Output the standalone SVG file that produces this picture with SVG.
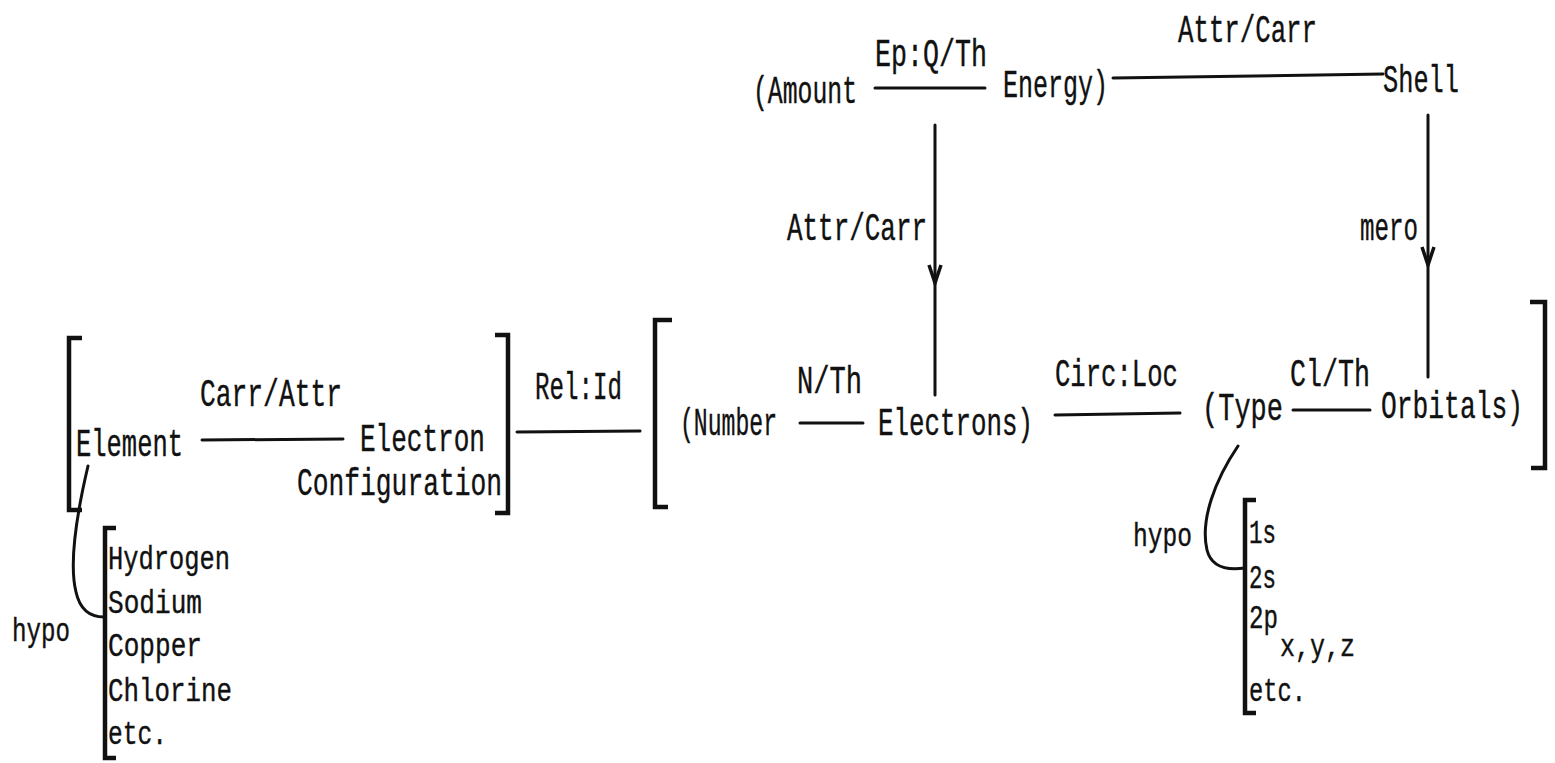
<svg xmlns="http://www.w3.org/2000/svg" width="1555" height="763" viewBox="0 0 1555 763">
<style>
text{font-family:"Liberation Mono","DejaVu Sans Mono",monospace;fill:#111;font-size:38px;stroke:#111;stroke-width:0.4}
.s{font-size:33px}
.sub{font-size:31px}
.ln{stroke:#111;stroke-width:3;fill:none;stroke-linecap:round}
.br{stroke:#111;stroke-width:4.5;fill:none;stroke-linejoin:miter}
</style>
<defs>
<marker id="am" markerUnits="userSpaceOnUse" viewBox="-22 -10 24 20" refX="0" refY="0" markerWidth="24" markerHeight="20" orient="auto">
<path d="M-18 -6 L0 0 L-18 6" fill="none" stroke="#111" stroke-width="3.5"/>
</marker>
</defs>
<g id="connectors">
<path class="ln" d="M875 88 L985 88"/>
<path class="ln" d="M1113 78 L1383 74"/>
<path class="ln" d="M935 125 L935 283 L935 395" marker-mid="url(#am)"/>
<path class="ln" d="M1428 115 L1428 265 L1428 377" marker-mid="url(#am)"/>
<path class="ln" d="M202 440 L343 439"/>
<path class="ln" d="M517 432 L640 431"/>
<path class="ln" d="M800 423 L863 423"/>
<path class="ln" d="M1055 415 L1180 413"/>
<path class="ln" d="M1293 410 L1370 410"/>
<path class="ln" d="M88 466 C80 500 68 560 76 592 C80 610 90 617 104 617"/>
<path class="ln" d="M1238 446 C1215 480 1200 520 1207 550 C1211 566 1224 571 1245 568"/>
</g>
<g id="n-amount-energy"><text x="753" y="103" textLength="104" lengthAdjust="spacingAndGlyphs">(Amount</text><text x="1003" y="97" textLength="105" lengthAdjust="spacingAndGlyphs">Energy)</text></g>
<g id="l-epq"><text x="875" y="66" textLength="112" lengthAdjust="spacingAndGlyphs">Ep:Q/Th</text></g>
<g id="l-attrcarr-top"><text x="1178" y="42" textLength="139" lengthAdjust="spacingAndGlyphs">Attr/Carr</text></g>
<g id="n-shell"><text x="1383" y="92" textLength="76" lengthAdjust="spacingAndGlyphs">Shell</text></g>
<g id="l-attrcarr-left"><text x="787" y="240" textLength="140" lengthAdjust="spacingAndGlyphs">Attr/Carr</text></g>
<g id="l-mero"><text x="1360" y="240" textLength="58" lengthAdjust="spacingAndGlyphs">mero</text></g>
<g id="n-element-group">
<path class="br" d="M82 338 L69 338 L69 510 L82 510"/>
<text x="76" y="456" textLength="107" lengthAdjust="spacingAndGlyphs">Element</text>
<text x="360" y="451" textLength="125" lengthAdjust="spacingAndGlyphs">Electron</text>
<text x="297" y="495" textLength="205" lengthAdjust="spacingAndGlyphs">Configuration</text>
<path class="br" d="M495 335 L508 335 L508 513 L495 513"/>
</g>
<g id="l-carrattr"><text x="200" y="406" textLength="142" lengthAdjust="spacingAndGlyphs">Carr/Attr</text></g>
<g id="l-relid"><text x="535" y="399" textLength="87" lengthAdjust="spacingAndGlyphs">Rel:Id</text></g>
<g id="n-electrons-group">
<path class="br" d="M672 320 L655 320 L655 507 L668 507"/>
<text x="680" y="435" textLength="97" lengthAdjust="spacingAndGlyphs">(Number</text>
<text x="878" y="435" textLength="155" lengthAdjust="spacingAndGlyphs">Electrons)</text>
<text x="1202" y="420" textLength="81" lengthAdjust="spacingAndGlyphs">(Type</text>
<text x="1381" y="418" textLength="142" lengthAdjust="spacingAndGlyphs">Orbitals)</text>
<path class="br" d="M1530 302 L1545 302 L1545 468 L1531 468"/>
</g>
<g id="l-nth"><text x="797" y="393" textLength="65" lengthAdjust="spacingAndGlyphs">N/Th</text></g>
<g id="l-circloc"><text x="1055" y="386" textLength="123" lengthAdjust="spacingAndGlyphs">Circ:Loc</text></g>
<g id="l-clth"><text x="1290" y="386" textLength="80" lengthAdjust="spacingAndGlyphs">Cl/Th</text></g>
<g id="n-elements-list">
<path class="br" d="M116 528 L105 528 L105 758 L116 758"/>
<text class="s" x="108" y="569" textLength="122" lengthAdjust="spacingAndGlyphs">Hydrogen</text>
<text class="s" x="108" y="613" textLength="94" lengthAdjust="spacingAndGlyphs">Sodium</text>
<text class="s" x="108" y="656" textLength="94" lengthAdjust="spacingAndGlyphs">Copper</text>
<text class="s" x="108" y="701" textLength="124" lengthAdjust="spacingAndGlyphs">Chlorine</text>
<text class="s" x="108" y="744" textLength="59" lengthAdjust="spacingAndGlyphs">etc.</text>
</g>
<g id="l-hypo-left"><text class="s" x="12" y="641" textLength="58" lengthAdjust="spacingAndGlyphs">hypo</text></g>
<g id="n-orbitals-list">
<path class="br" d="M1256 500 L1245 500 L1245 713 L1256 713"/>
<text class="s" x="1249" y="543" textLength="27" lengthAdjust="spacingAndGlyphs">1s</text>
<text class="s" x="1249" y="588" textLength="27" lengthAdjust="spacingAndGlyphs">2s</text>
<text class="s" x="1249" y="628" textLength="29" lengthAdjust="spacingAndGlyphs">2p</text>
<text class="sub" x="1280" y="656" textLength="75" lengthAdjust="spacingAndGlyphs">x,y,z</text>
<text class="s" x="1249" y="701" textLength="57" lengthAdjust="spacingAndGlyphs">etc.</text>
</g>
<g id="l-hypo-right"><text class="s" x="1133" y="546" textLength="59" lengthAdjust="spacingAndGlyphs">hypo</text></g>
</svg>
